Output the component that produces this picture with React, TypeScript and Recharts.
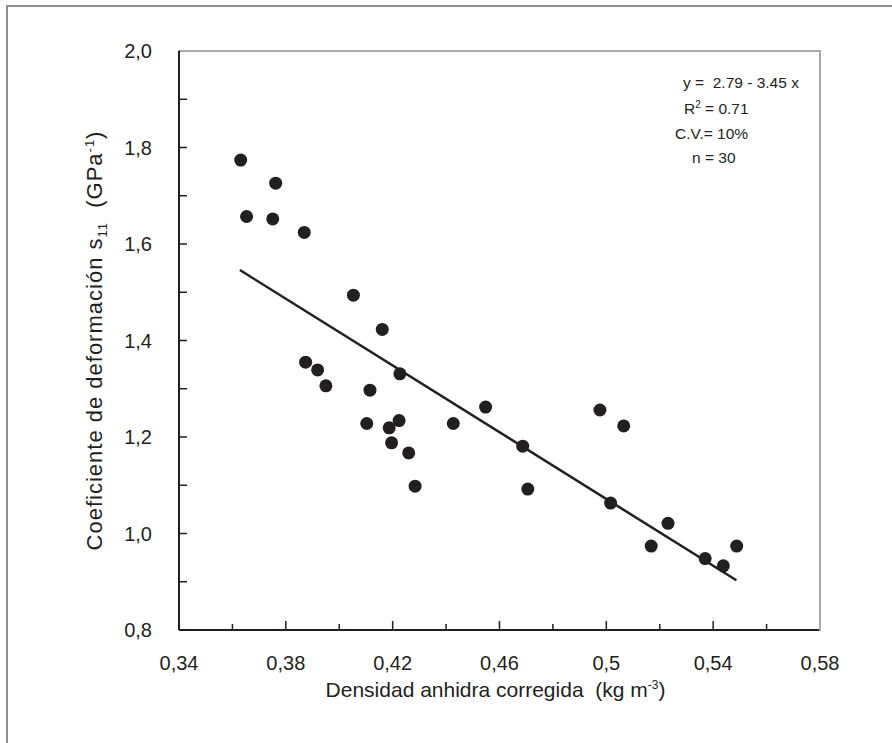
import { ScatterChart, Scatter, XAxis, YAxis } from "recharts";

// densidad anhidra corregida (kg m-3)
const densidad = [
  0.3631, 0.3653, 0.3762, 0.3751, 0.3869, 0.4053, 0.4161, 0.4227, 0.4115, 0.4548,
  0.4103, 0.4224, 0.4187, 0.4427, 0.4196, 0.426, 0.4687, 0.4284, 0.4706, 0.4976,
  0.5065, 0.5016, 0.5231, 0.5168, 0.537, 0.5438, 0.5488, 0.3874, 0.3919, 0.395,
];
// coeficiente de deformación s11 (GPa-1)
const coeficiente = [
  1.774, 1.657, 1.726, 1.652, 1.624, 1.494, 1.423, 1.331, 1.297, 1.262,
  1.228, 1.234, 1.219, 1.228, 1.188, 1.167, 1.181, 1.098, 1.092, 1.256,
  1.223, 1.063, 1.021, 0.974, 0.948, 0.933, 0.974, 1.355, 1.339, 1.306,
];
// y = 2.79 - 3.45 x, drawn over the range of the data
const fitX = [0.3628, 0.5487];
const fitY = [1.546, 0.903];

const xTicks = [0.34, 0.36, 0.38, 0.4, 0.42, 0.44, 0.46, 0.48, 0.5, 0.52, 0.54, 0.56, 0.58];
const xTickLabels = ["0,34", "0,38", "0,42", "0,46", "0,5", "0,54", "0,58"];
const yTicks = [0.8, 0.9, 1.0, 1.1, 1.2, 1.3, 1.4, 1.5, 1.6, 1.7, 1.8, 1.9, 2.0];
const yTickLabels = ["0,8", "1,0", "1,2", "1,4", "1,6", "1,8", "2,0"];

const INK = "#231f20";
const FRAME = "#aaaaaa";
const FONT = "'Liberation Sans', Arial, sans-serif";

const puntos = densidad.map((x, i) => ({ x, y: coeficiente[i] }));
const ajuste = fitX.map((x, i) => ({ x, y: fitY[i] }));

const XTick = (props: any) => {
  const { x, y, index } = props;
  const major = index % 2 === 0;
  return (
    <g>
      <line x1={x} x2={x} y1={y} y2={y - (major ? 9 : 6)} stroke={INK} strokeWidth={1.5} />
      {major && (
        <text x={x} y={y + 40} textAnchor="middle" fontSize={20} fontFamily={FONT} fill={INK}>
          {xTickLabels[index / 2]}
        </text>
      )}
    </g>
  );
};

const YTick = (props: any) => {
  const { x, y, index } = props;
  const major = index % 2 === 0;
  return (
    <g>
      <line x1={x} x2={x + 8} y1={y} y2={y} stroke={INK} strokeWidth={1.5} />
      {major && (
        <text x={x - 27} y={y + 7} textAnchor="end" fontSize={20} fontFamily={FONT} fill={INK}>
          {yTickLabels[index / 2]}
        </text>
      )}
    </g>
  );
};

const XTitle = (props: any) => {
  const { viewBox } = props;
  const cx = viewBox.x + viewBox.width / 2 - 4;
  const by = viewBox.y + 67;
  return (
    <text x={cx} y={by} textAnchor="middle" fontSize={21} fontFamily={FONT} fill={INK}>
      <tspan>{"Densidad anhidra corregida \u00a0(kg m"}</tspan>
      <tspan dy={-8} fontSize={12}>-3</tspan>
      <tspan dy={8}>)</tspan>
    </text>
  );
};

const YTitle = (props: any) => {
  const { viewBox } = props;
  const cx = viewBox.x + 102;
  const cy = viewBox.y + viewBox.height / 2;
  return (
    <text
      x={cx}
      y={cy}
      textAnchor="middle"
      fontSize={22}
      letterSpacing={1.0}
      fontFamily={FONT}
      fill={INK}
      transform={`rotate(-90, ${cx}, ${cy})`}
    >
      <tspan>Coeficiente de deformación s</tspan>
      <tspan dy={5} fontSize={13}>11</tspan>
      <tspan dy={-5}>{" \u00a0(GPa"}</tspan>
      <tspan dy={-8} fontSize={13}>-1</tspan>
      <tspan dy={8}>)</tspan>
    </text>
  );
};

export default function App() {
  return (
    <div
      style={{
        position: "absolute",
        left: 0,
        top: 0,
        width: 892,
        height: 743,
        background: "#fff",
        overflow: "hidden",
      }}
    >
      <div
        style={{
          position: "absolute",
          left: 6,
          top: 5,
          width: 950,
          height: 800,
          borderLeft: "2px solid #8f8f8f",
          borderTop: "2px solid #8f8f8f",
        }}
      />
      <div style={{ position: "absolute", left: 0, top: 0 }}>
        <ScatterChart width={892} height={743} margin={{ top: 51, right: 72, bottom: 0, left: 0 }}>
          <XAxis
            type="number"
            dataKey="x"
            domain={[0.34, 0.58]}
            ticks={xTicks}
            interval={0}
            height={113}
            tickSize={0}
            tickMargin={0}
            tickLine={false}
            tick={<XTick />}
            axisLine={{ stroke: INK, strokeWidth: 2 }}
            label={<XTitle />}
          />
          <YAxis
            type="number"
            dataKey="y"
            domain={[0.8, 2]}
            ticks={yTicks}
            interval={0}
            width={179}
            tickSize={0}
            tickMargin={0}
            tickLine={false}
            tick={<YTick />}
            axisLine={{ stroke: INK, strokeWidth: 2 }}
            label={<YTitle />}
          />
          <Scatter
            data={ajuste}
            line={{ stroke: INK, strokeWidth: 2.5 }}
            shape={() => <g />}
            isAnimationActive={false}
          />
          <Scatter
            data={puntos}
            shape={(p: any) => <circle cx={p.cx} cy={p.cy} r={6.5} fill={INK} />}
            isAnimationActive={false}
          />
        </ScatterChart>
      </div>
      {/* top and right edges of the plot box, laid over the chart */}
      <div
        style={{
          position: "absolute",
          left: 180,
          top: 50,
          width: 639,
          height: 579,
          borderTop: `2px solid ${FRAME}`,
          borderRight: `2px solid ${FRAME}`,
          pointerEvents: "none",
          zIndex: 2,
        }}
      />
      <svg
        width={892}
        height={743}
        style={{ position: "absolute", left: 0, top: 0, pointerEvents: "none", zIndex: 3 }}
      >
        <g fontFamily={FONT} fontSize={15.5} fill={INK}>
          <text x={683} y={88}>{"y =\u00a0 2.79 - 3.45 x"}</text>
          <text x={684} y={114}>
            R<tspan dy={-6} fontSize={10}>2</tspan>
            <tspan dy={6}> = 0.71</tspan>
          </text>
          <text x={675} y={139}>C.V.= 10%</text>
          <text x={692} y={163}>n = 30</text>
        </g>
      </svg>
    </div>
  );
}
